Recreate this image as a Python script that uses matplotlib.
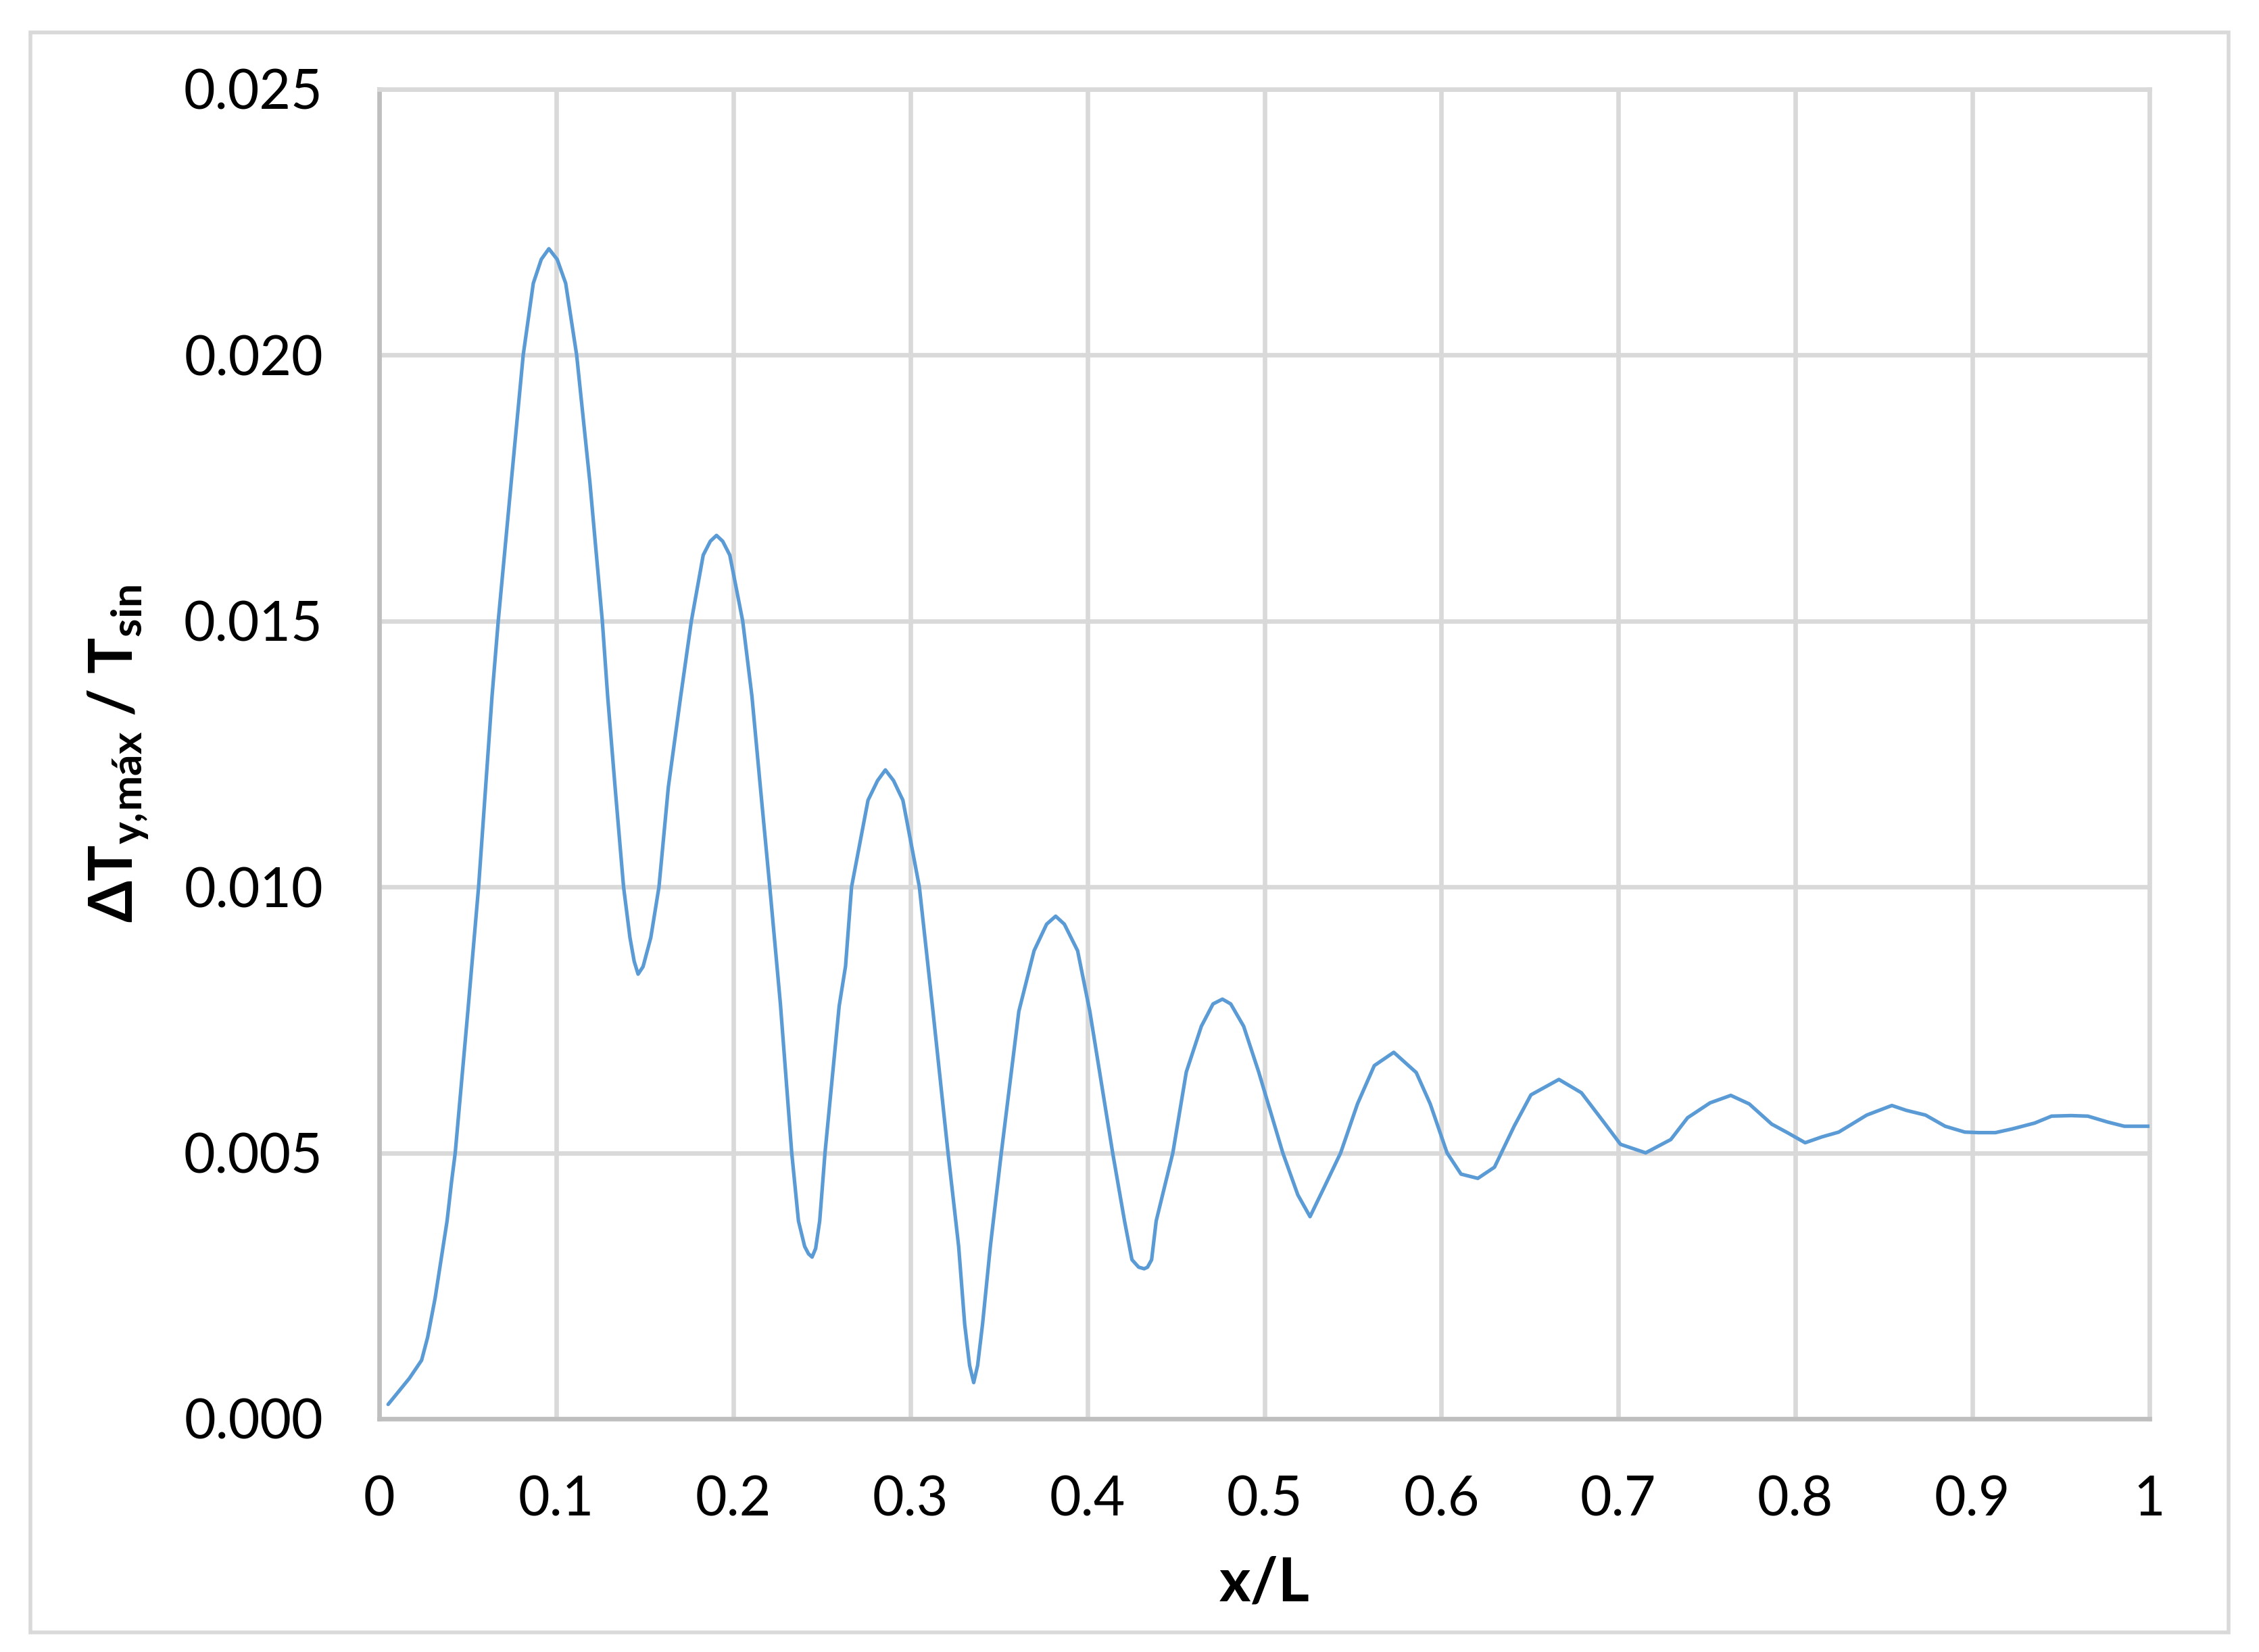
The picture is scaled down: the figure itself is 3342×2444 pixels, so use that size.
import matplotlib.pyplot as plt
from matplotlib.patches import Rectangle

# x/L positions and dimensionless temperature difference
x_over_L = [0.005, 0.017, 0.0239, 0.0273, 0.0315, 0.0349, 0.0383, 0.0408, 0.0429, 0.046,
            0.0499, 0.0561, 0.0637, 0.0672, 0.0745, 0.0813, 0.087, 0.0915, 0.0958, 0.1005,
            0.1053, 0.1115, 0.119, 0.126, 0.129, 0.1332, 0.138, 0.1416, 0.144, 0.1462,
            0.149, 0.1534, 0.158, 0.1633, 0.1703, 0.1763, 0.183, 0.187, 0.1905, 0.194,
            0.198, 0.2053, 0.2105, 0.2155, 0.2206, 0.2266, 0.233, 0.2368, 0.2403, 0.2425,
            0.2445, 0.2465, 0.2488, 0.2518, 0.2598, 0.2634, 0.2668, 0.2761, 0.2815, 0.2859,
            0.2905, 0.2958, 0.3051, 0.3128, 0.3213, 0.3273, 0.3307, 0.3335, 0.3358, 0.338,
            0.3408, 0.3452, 0.3514, 0.3613, 0.3699, 0.377, 0.3821, 0.387, 0.3945, 0.4014,
            0.4143, 0.421, 0.4252, 0.429, 0.4321, 0.434, 0.4363, 0.4389, 0.4483, 0.4559,
            0.4644, 0.471, 0.4763, 0.481, 0.4883, 0.4968, 0.5104, 0.5189, 0.5258, 0.5345,
            0.5431, 0.5526, 0.5621, 0.5731, 0.5858, 0.5937, 0.6032, 0.6111, 0.6206, 0.630,
            0.6411, 0.6506, 0.6664, 0.6791, 0.6917, 0.7012, 0.7154, 0.7296, 0.7391, 0.7518,
            0.7635, 0.7739, 0.7866, 0.796, 0.8055, 0.815, 0.8245, 0.8403, 0.8545, 0.8625,
            0.8735, 0.8846, 0.8957, 0.9036, 0.913, 0.9225, 0.9352, 0.9447, 0.9557, 0.9652,
            0.9763, 0.9858, 1.000]
dT_ratio = [0.00027, 0.00076, 0.00110, 0.00153, 0.00226, 0.00299, 0.00372, 0.00445, 0.0050, 0.00616,
            0.00761, 0.0100, 0.01359, 0.0150, 0.0176, 0.0200, 0.02135, 0.0218, 0.0220, 0.0218,
            0.02135, 0.0200, 0.0176, 0.0150, 0.01359, 0.01188, 0.0100, 0.00905, 0.0086, 0.00836,
            0.0085, 0.00905, 0.0100, 0.01188, 0.01359, 0.0150, 0.01624, 0.0165, 0.01661, 0.0165,
            0.01624, 0.0150, 0.01359, 0.0118, 0.0100, 0.0078, 0.0050, 0.00372, 0.00324, 0.0031,
            0.00304, 0.0032, 0.00372, 0.0050, 0.00776, 0.00851, 0.0100, 0.01163, 0.0120, 0.0122,
            0.0120, 0.01163, 0.0100, 0.00766, 0.0050, 0.00324, 0.00178, 0.0010, 0.00068, 0.0010,
            0.00178, 0.00324, 0.0050, 0.00766, 0.0088, 0.0093, 0.00945, 0.0093, 0.0088, 0.00766,
            0.0050, 0.00372, 0.00299, 0.00285, 0.00282, 0.00285, 0.00299, 0.00372, 0.0050, 0.00652,
            0.00738, 0.0078, 0.00789, 0.0078, 0.00738, 0.00652, 0.0050, 0.00421, 0.0038, 0.0044,
            0.0050, 0.00592, 0.00664, 0.00689, 0.00651, 0.00592, 0.0050, 0.0046, 0.00452, 0.00473,
            0.0055, 0.00609, 0.00638, 0.00613, 0.00558, 0.00516, 0.0050, 0.00525, 0.00566, 0.00594,
            0.00608, 0.00592, 0.00554, 0.00537, 0.00519, 0.0053, 0.00539, 0.00571, 0.00589, 0.0058,
            0.00571, 0.0055, 0.00539, 0.00538, 0.00538, 0.00545, 0.00556, 0.00569, 0.0057, 0.00569,
            0.00558, 0.0055, 0.0055]

x_ticks = [0, 0.1, 0.2, 0.3, 0.4, 0.5, 0.6, 0.7, 0.8, 0.9, 1]
x_tick_labels = ["0", "0.1", "0.2", "0.3", "0.4", "0.5", "0.6", "0.7", "0.8", "0.9", "1"]
y_ticks = [0.000, 0.005, 0.010, 0.015, 0.020, 0.025]
y_tick_labels = ["0.000", "0.005", "0.010", "0.015", "0.020", "0.025"]

plt.rcParams['font.family'] = ['Lato', 'DejaVu Sans']
plt.rcParams['mathtext.fontset'] = 'custom'
plt.rcParams['mathtext.rm'] = 'Lato:bold'
plt.rcParams['mathtext.bf'] = 'Lato:bold'

fig = plt.figure(figsize=(16.71, 12.22), dpi=200)
ax = fig.add_axes([0.1679, 0.1412, 0.9515 - 0.1679, 0.946 - 0.1412])

# outer chart border
fig.patches.append(Rectangle((45 / 3342, 1 - 2415 / 2444), (3297 - 45) / 3342, (2415 - 48) / 2444,
                             transform=fig.transFigure, fill=False,
                             edgecolor="#D9D9D9", linewidth=2.0))

ax.plot(x_over_L, dT_ratio, color="#5B9BD5", linewidth=1.9,
        solid_joinstyle="round", solid_capstyle="round", zorder=3)

ax.set_xlim(0, 1)
ax.set_ylim(0, 0.025)
ax.set_xticks(x_ticks)
ax.set_xticklabels(x_tick_labels)
ax.set_yticks(y_ticks)
ax.set_yticklabels(y_tick_labels)
ax.tick_params(length=0, labelsize=29, pad=30)

ax.grid(True, color="#D9D9D9", linewidth=2.4)
ax.set_axisbelow(True)
for side in ["top", "right"]:
    ax.spines[side].set_color("#D9D9D9")
    ax.spines[side].set_linewidth(2.4)
for side in ["left", "bottom"]:
    ax.spines[side].set_color("#BFBFBF")
    ax.spines[side].set_linewidth(2.4)

ax.set_xlabel("x/L", fontsize=32, fontweight="bold")
ax.set_ylabel(r"ΔT$_{\mathrm{y,\!máx}}$ / T$_{\mathrm{sin}}$", fontsize=32, fontweight="bold")
ax.xaxis.set_label_coords(0.5, -0.103)
ax.yaxis.set_label_coords(-0.129, 0.5)

fig.savefig("out.png", dpi=200)
